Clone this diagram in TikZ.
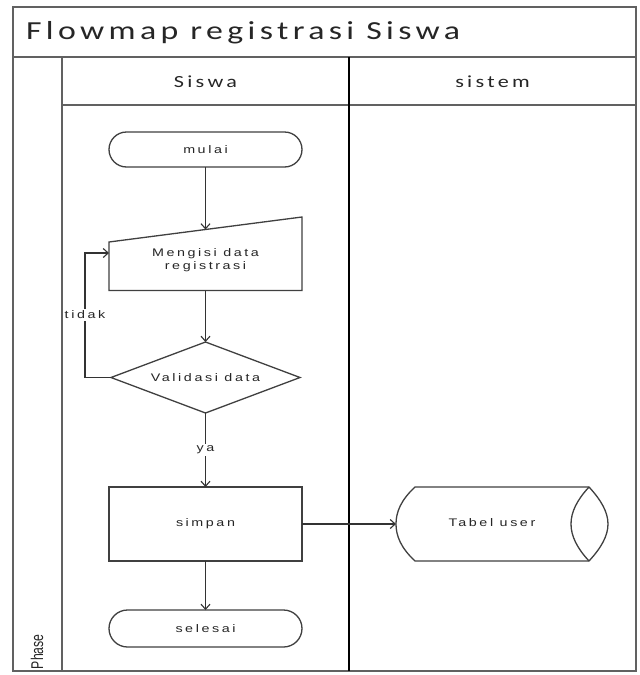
\documentclass[tikz,border=0pt]{standalone}
\usepackage{fontspec}
\usepackage{graphicx}
\usetikzlibrary{arrows.meta}

% Fonts: wide, tracked sans for the swimlane texts
\newfontfamily\titlefont[LetterSpace=13]{Carlito}
\newfontfamily\headfont[LetterSpace=15]{Carlito}
\newfontfamily\smallfont[LetterSpace=18]{Liberation Sans}
\newfontfamily\phasefont{Liberation Sans}
\newcommand\titletext[1]{{\titlefont\fontsize{26}{30}\selectfont\scalebox{1.3}[1]{#1}}}
\newcommand\headtext[1]{{\headfont\fontsize{17}{20}\selectfont\scalebox{1.3}[1]{#1}}}
\newcommand\smtext[1]{{\smallfont\fontsize{11}{13}\selectfont\scalebox{1.3}[1]{#1}}}

\begin{document}
\begin{tikzpicture}[x=1pt,y=-1pt,
  frame/.style={draw=black!62, line width=2pt},
  lane/.style={draw=black, line width=1.4pt},
  shapeline/.style={draw=black!75, line width=1.3pt},
  plain/.style={inner sep=0pt, outer sep=0pt},
  term/.style={shapeline, rounded corners=17.5pt, minimum width=193pt, inner sep=0pt, outer sep=0pt},
  procbox/.style={shapeline, minimum width=193pt, inner sep=0pt, outer sep=0pt},
  conn/.style={draw=black!80, line width=1.1pt},
  arr/.style={conn, -{Straight Barb[length=5pt,width=9pt]}},
  lbl/.style={fill=white, inner sep=1.5pt},
  every node/.style={text=black!85}]

\useasboundingbox (0,0) rectangle (640,675);
\fill[white] (0,0) rectangle (640,675);

% swimlane frame
\draw[frame] (13,7) rectangle (636,671);
\draw[frame] (13,57) -- (636,57);
\draw[frame] (62,57) -- (62,671);
\draw[frame] (62,105) -- (636,105);
\draw[lane] (349,57) -- (349,671);

% title, lane headers, phase label
\node[plain, anchor=west] (title) at (26,33) {\titletext{Flowmap registrasi Siswa}};
\node[plain] (hsiswa) at (205.5,82) {\headtext{Siswa}};
\node[plain] (hsistem) at (492.5,82) {\headtext{sistem}};
\node[plain, rotate=90, anchor=west] (phase) at (37,669)
  {\phasefont\fontsize{17}{20}\selectfont\scalebox{0.72}[1]{Phase}};

% flow shapes
\node[term, minimum height=35pt] (mulai) at (205.5,149.5) {\smtext{mulai}};

\node[plain, minimum width=193pt, minimum height=61pt, align=center] (mi) at (205.5,260)
  {\smtext{Mengisi data}\\[1pt]\smtext{registrasi}};
\draw[shapeline] (mi.south west) -- (mi.south east) -- ([yshift=12.5pt]mi.north east)
  -- ([yshift=-12.5pt]mi.north west) -- cycle;

\node[plain, minimum width=189pt, minimum height=71pt] (dec) at (205.5,377.5) {\smtext{Validasi data}};
\draw[shapeline] (dec.north) -- (dec.east) -- (dec.south) -- (dec.west) -- cycle;

\node[procbox, minimum height=74pt] (simpan) at (205.5,524) {\smtext{simpan}};
\node[term, rounded corners=18.5pt, minimum height=37pt] (selesai) at (205.5,628.5) {\smtext{selesai}};

% stored-data cylinder
\node[plain, minimum width=212pt, minimum height=74pt] (tabel) at (502,524) {};
\draw[shapeline] (415,487) -- (589,487)
  .. controls (601,500) and (608,512) .. (608,524)
  .. controls (608,536) and (601,548) .. (589,561)
  -- (415,561)
  .. controls (401,548) and (396,536) .. (396,524)
  .. controls (396,512) and (401,500) .. (415,487) -- cycle;
\draw[shapeline] (589,487) .. controls (577,500) and (571,512) .. (571,524)
  .. controls (571,536) and (577,548) .. (589,561);
\node[plain] (tabeltxt) at (492,523) {\smtext{Tabel user}};

% connectors
\draw[arr] (mulai) -- (mi);
\draw[arr] (mi) -- (dec);
\draw[arr] (dec) -- (simpan) node[lbl, pos=0.5] (ya) {\smtext{ya}};
\draw[arr] (simpan) -- (selesai);
\draw[arr] (simpan) -- (tabel);
\draw[arr] (dec.west) -- ++(-26,0) |- ([yshift=7pt]mi.west);
\node[lbl] (tidak) at (85,315) {\smtext{tidak}};
\end{tikzpicture}
\end{document}
